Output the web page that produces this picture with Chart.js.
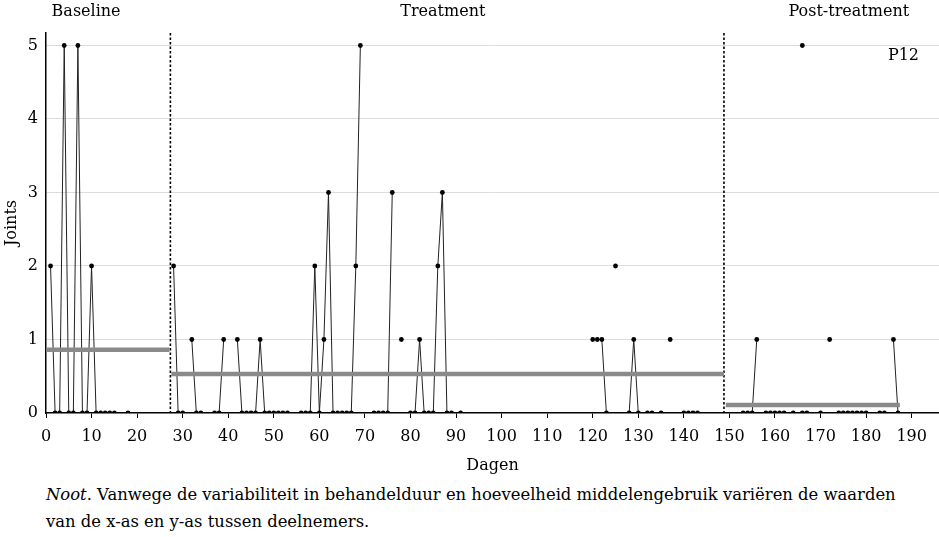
<!DOCTYPE html>
<html>
<head>
<meta charset="utf-8">
<script src="https://cdn.jsdelivr.net/npm/chart.js"></script>
<style>
    body { margin: 0; background: #fff; overflow: hidden; }
    #wrap { position: relative; width: 939px; height: 537px; overflow: hidden; }
    #noot {
        position: absolute; left: 46px; top: 481px;
        font: 16.4px "DejaVu Serif", serif; line-height: 27px;
        color: #000; white-space: nowrap;
    }
</style>
</head>
<body>
<div id="wrap">
    <canvas id="myChart" width="943" height="480"></canvas>
    <div id="noot"><i>Noot</i>. Vanwege de variabiliteit in behandelduur en hoeveelheid middelengebruik variëren de waarden<br>van de x-as en y-as tussen deelnemers.</div>
</div>
<script>
// Metingen per dag (dagen zonder meting ontbreken)
const dagen = [
    1, 2, 3, 4, 5, 6, 7, 8, 9, 10, 11, 12, 13, 14, 15, 18,
    28, 29, 30, 32, 33, 34, 37, 38, 39, 42, 43, 44, 45, 46, 47, 48, 49, 50, 51, 52, 53,
    56, 57, 58, 59, 60, 61, 62, 63, 64, 65, 66, 67, 68, 69, 72, 73, 74, 75, 76, 78,
    80, 81, 82, 83, 84, 85, 86, 87, 88, 89, 91,
    120, 121, 122, 123, 125, 128, 129, 130, 132, 133, 135, 137, 140, 141, 142, 143,
    153, 154, 155, 156, 158, 159, 160, 161, 162, 164, 166, 167, 170, 172,
    174, 175, 176, 177, 178, 179, 180, 183, 184, 186, 187
];
const joints = [
    2, 0, 0, 5, 0, 0, 5, 0, 0, 2, 0, 0, 0, 0, 0, 0,
    2, 0, 0, 1, 0, 0, 0, 0, 1, 1, 0, 0, 0, 0, 1, 0, 0, 0, 0, 0, 0,
    0, 0, 0, 2, 0, 1, 3, 0, 0, 0, 0, 0, 2, 5, 0, 0, 0, 0, 3, 1,
    0, 0, 1, 0, 0, 0, 2, 3, 0, 0, 0,
    1, 1, 1, 0, 2, 0, 1, 0, 0, 0, 0, 1, 0, 0, 0, 0,
    0, 0, 0, 1, 0, 0, 0, 0, 0, 0, 0, 0, 0, 1,
    0, 0, 0, 0, 0, 0, 0, 0, 0, 1, 0
];
// losse meting die niet met de lijn verbonden is
const losseDagen = [166];
const losseJoints = [5];

// Fasen
const fases = ['Baseline', 'Treatment', 'Post-treatment'];
const faseGrenzen = [27.3, 148.8];
const gemStart = [0, 27.5, 149.2];
const gemEind = [27.1, 148.8, 187.4];
const gemiddelden = [0.86, 0.53, 0.11];

const xTicks = [0, 10, 20, 30, 40, 50, 60, 70, 80, 90, 100, 110, 120, 130, 140, 150, 160, 170, 180, 190];
const yTicks = [0, 1, 2, 3, 4, 5];
const deelnemer = 'P12';

const FONT = '"DejaVu Serif", serif';

// punten opbouwen, met een onderbreking waar een dag ontbreekt
const punten = [];
dagen.forEach((d, i) => {
    if (i > 0 && d - dagen[i - 1] > 1) punten.push({ x: d - 0.5, y: null });
    punten.push({ x: d, y: joints[i] });
});

const gemDatasets = gemiddelden.map((g, i) => ({
    data: [{ x: gemStart[i], y: g }, { x: gemEind[i], y: g }],
    borderColor: '#8a8a8a',
    borderWidth: 4.5,
    pointRadius: 0
}));

const fasePlugin = {
    id: 'fases',
    beforeDatasetsDraw(chart) {
        const { ctx, chartArea: a, scales: { x } } = chart;
        ctx.save();
        ctx.strokeStyle = '#000';
        ctx.lineWidth = 1.6;
        ctx.setLineDash([2.5, 2]);
        faseGrenzen.forEach(d => {
            const px = x.getPixelForValue(d);
            ctx.beginPath();
            ctx.moveTo(px, a.top);
            ctx.lineTo(px, a.bottom);
            ctx.stroke();
        });
        ctx.restore();
    },
    afterDraw(chart) {
        const { ctx, chartArea: a, scales: { x } } = chart;
        const labelDagen = [8.8, 87.1, 176.2];
        ctx.save();
        ctx.font = '16px ' + FONT;
        ctx.fillStyle = '#000';
        ctx.textAlign = 'center';
        ctx.textBaseline = 'middle';
        fases.forEach((f, i) => ctx.fillText(f, x.getPixelForValue(labelDagen[i]), 12));
        ctx.textAlign = 'right';
        ctx.fillText(deelnemer, a.right - 20, 56);
        ctx.restore();
    }
};

const ctx = document.getElementById('myChart').getContext('2d');
new Chart(ctx, {
    type: 'line',
    data: {
        datasets: [
            ...gemDatasets,
            {
                data: punten,
                borderColor: '#222',
                borderWidth: 1,
                pointRadius: 2.4,
                pointBackgroundColor: '#000',
                pointBorderWidth: 0,
                spanGaps: false
            },
            {
                data: losseDagen.map((d, i) => ({ x: d, y: losseJoints[i] })),
                showLine: false,
                pointRadius: 2.4,
                pointBackgroundColor: '#000',
                pointBorderWidth: 0
            }
        ]
    },
    options: {
        responsive: false,
        animation: false,
        layout: { padding: { top: 33, left: 0, right: 0, bottom: 0 } },
        scales: {
            x: {
                type: 'linear',
                min: 0,
                max: 196,
                afterBuildTicks: s => { s.ticks = xTicks.map(v => ({ value: v })); },
                afterFit: s => { s.height = 67; },
                grid: { drawOnChartArea: false, drawTicks: true, tickLength: 5, color: '#000' },
                border: { color: '#000', width: 1.5 },
                ticks: { color: '#000', font: { family: FONT, size: 16 }, padding: 9, autoSkip: false, maxRotation: 0 },
                title: { display: true, text: 'Dagen', color: '#000', font: { family: FONT, size: 16 }, padding: { top: 0, bottom: 5 } }
            },
            y: {
                min: 0,
                max: 5.17,
                afterBuildTicks: s => { s.ticks = yTicks.map(v => ({ value: v })); },
                afterFit: s => { s.width = 46; },
                grid: {
                    drawTicks: false,
                    color: c => (c.tick && c.tick.value === 0) ? 'rgba(0,0,0,0)' : '#dcdcdc'
                },
                border: { color: '#000', width: 1.5 },
                ticks: { color: '#000', font: { family: FONT, size: 16 }, padding: 8 },
                title: { display: true, text: 'Joints', color: '#000', font: { family: FONT, size: 16 }, padding: { top: 2, bottom: 0 } }
            }
        },
        plugins: {
            legend: { display: false },
            tooltip: { enabled: false }
        }
    },
    plugins: [fasePlugin]
});
</script>
</body>
</html>
